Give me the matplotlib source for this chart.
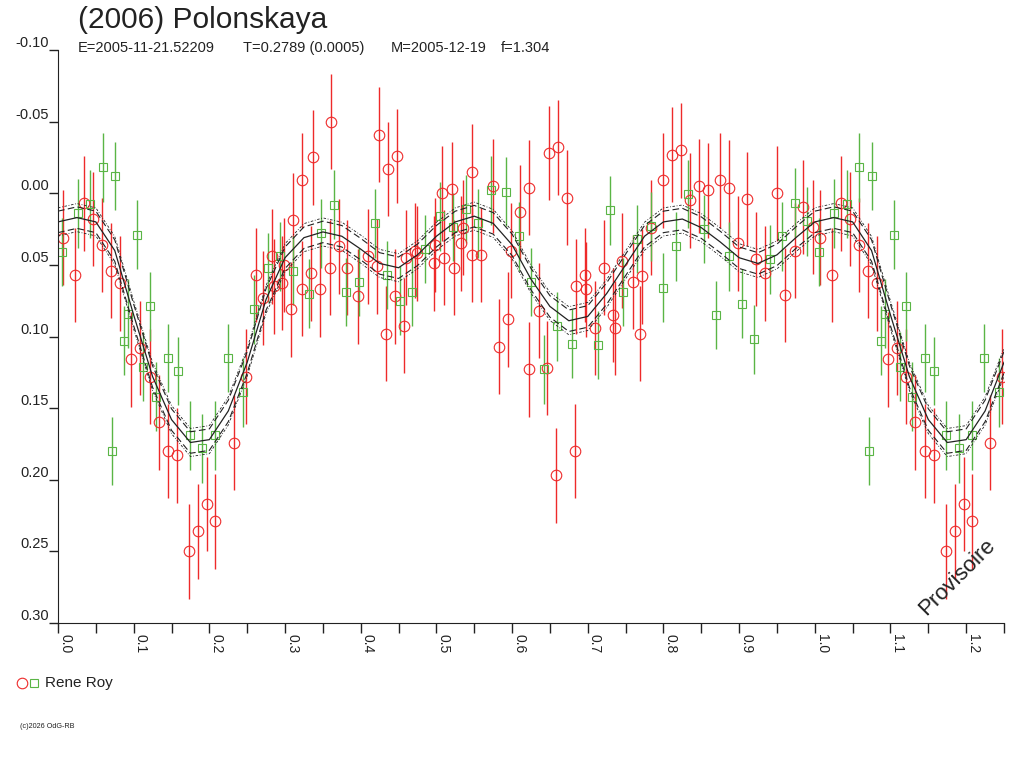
import numpy as np
import matplotlib
matplotlib.use('Agg')
import matplotlib.pyplot as plt
from matplotlib.ticker import FixedLocator, FormatStrFormatter

plt.rcParams['font.family'] = ['Liberation Sans', 'DejaVu Sans']

# phase / relative magnitude (phase 0..1, repeated up to 1.25)
red_phase = [0.007, 0.0225, 0.034, 0.046, 0.058, 0.070, 0.082, 0.097, 0.109, 0.121,
             0.133, 0.145, 0.157, 0.173, 0.185, 0.197, 0.208, 0.232, 0.248, 0.262,
             0.271, 0.283, 0.286, 0.296, 0.299, 0.3075, 0.311, 0.322, 0.3224, 0.334,
             0.337, 0.346, 0.359, 0.361, 0.371, 0.382, 0.397, 0.410, 0.422, 0.424,
             0.4335, 0.4365, 0.445, 0.448, 0.457, 0.4595, 0.472, 0.474, 0.497, 0.498,
             0.508, 0.510, 0.520, 0.523, 0.532, 0.535, 0.547, 0.5476, 0.559, 0.5745,
             0.583, 0.595, 0.5986, 0.6106, 0.622, 0.6224, 0.635, 0.646, 0.649, 0.661,
             0.6585, 0.673, 0.683, 0.685, 0.697, 0.698, 0.709, 0.721, 0.733, 0.736,
             0.745, 0.7595, 0.769, 0.772, 0.7837, 0.799, 0.811, 0.823, 0.835, 0.847,
             0.859, 0.875, 0.886, 0.898, 0.9105, 0.922, 0.934, 0.950, 0.961, 0.9735,
             0.985, 0.998]
red_mag = [0.031, 0.057, 0.007, 0.018, 0.036, 0.054, 0.063, 0.116, 0.108, 0.128,
           0.160, 0.180, 0.183, 0.250, 0.236, 0.217, 0.229, 0.174, 0.128, 0.057,
           0.073, 0.044, 0.065, 0.0625, 0.050, 0.081, 0.019, -0.009, 0.0665, 0.056,
           -0.025, 0.067, 0.052, -0.050, 0.037, 0.052, 0.072, 0.044, 0.051, -0.041,
           0.098, -0.017, 0.072, -0.026, 0.0925, 0.045, 0.040, 0.042, 0.049, 0.036,
           0.000, 0.045, -0.003, 0.052, 0.035, 0.024, -0.015, 0.043, 0.043, -0.005,
           0.107, 0.088, 0.040, 0.013, -0.004, 0.123, 0.082, 0.122, -0.028, -0.032,
           0.197, 0.003, 0.180, 0.065, 0.057, 0.067, 0.094, 0.052, 0.085, 0.094,
           0.047, 0.062, 0.098, 0.058, 0.024, -0.009, -0.027, -0.030, 0.005, -0.005,
           -0.002, -0.009, -0.004, 0.035, 0.004, 0.046, 0.056, 0.000, 0.071, 0.040,
           0.0095, 0.0235]
red_err = 0.033

green_phase = [0.005, 0.026, 0.042, 0.059, 0.075, 0.104, 0.071, 0.0925, 0.087, 0.121,
               0.112, 0.129, 0.146, 0.158, 0.174, 0.190, 0.208, 0.224, 0.244, 0.259,
               0.278, 0.294, 0.311, 0.331, 0.348, 0.365, 0.381, 0.398, 0.4185, 0.435,
               0.4516, 0.468, 0.4846, 0.505, 0.522, 0.539, 0.5555, 0.572, 0.592, 0.609,
               0.6255, 0.642, 0.659, 0.679, 0.713, 0.7295, 0.7466, 0.7648, 0.783, 0.800,
               0.816, 0.833, 0.853, 0.870, 0.887, 0.904, 0.920, 0.9405, 0.956, 0.9735,
               0.990]
green_mag = [0.041, 0.014, 0.0075, -0.018, -0.012, 0.029, 0.180, 0.084, 0.103, 0.079,
             0.121, 0.142, 0.115, 0.124, 0.169, 0.178, 0.169, 0.115, 0.139, 0.081,
             0.052, 0.044, 0.054, 0.070, 0.028, 0.008, 0.069, 0.062, 0.021, 0.057,
             0.075, 0.069, 0.039, 0.016, 0.0235, 0.011, 0.021, -0.002, -0.001, 0.030,
             0.062, 0.123, 0.093, 0.105, 0.106, 0.012, 0.069, 0.032, 0.023, 0.066,
             0.037, 0.0005, 0.025, 0.085, 0.044, 0.077, 0.102, 0.046, 0.030, 0.0065,
             0.0195]
green_err = 0.024

# fitted curve read every 0.025 in phase
fit_phase = np.arange(0, 1.0001, 0.025)
fit_mag = [0.020, 0.017, 0.020, 0.040, 0.085, 0.128, 0.158, 0.174, 0.172, 0.152,
           0.118, 0.074, 0.045, 0.031, 0.027, 0.030, 0.039, 0.049, 0.052, 0.043,
           0.030, 0.020, 0.016, 0.021, 0.036, 0.060, 0.079, 0.089, 0.086, 0.070,
           0.050, 0.030, 0.020, 0.018, 0.024, 0.034, 0.045, 0.049, 0.043, 0.031,
           0.020]
env1 = 0.0075
env2 = 0.0098

red_c = '#ee2a2a'
green_c = '#5ab545'
ink = '#222222'


def wrap(ph, mag):
    ph = np.asarray(ph)
    mag = np.asarray(mag)
    m = ph + 1 <= 1.25
    return np.concatenate([ph, ph[m] + 1]), np.concatenate([mag, mag[m]])


fig = plt.figure(figsize=(10.24, 7.68), dpi=100)
ax = fig.add_axes([58 / 1024, 1 - 623 / 768, 946 / 1024, 573 / 768])

rx, ry = wrap(red_phase, red_mag)
gx, gy = wrap(green_phase, green_mag)

ax.errorbar(rx, ry, yerr=red_err, fmt='none', ecolor=red_c, elinewidth=1, capsize=0)
ax.errorbar(gx, gy, yerr=green_err, fmt='none', ecolor=green_c, elinewidth=1, capsize=0)
ax.plot(rx, ry, 'o', ms=7.6, mfc='none', mec=red_c, mew=0.8)
ax.plot(gx, gy, 's', ms=6.0, mfc='none', mec=green_c, mew=0.8)

fx, fy = wrap(fit_phase[:-1], fit_mag[:-1])
order = np.argsort(fx)
fx, fy = fx[order], fy[order]
ax.plot(fx, fy, color=ink, lw=0.9)
for off in (env1, -env1):
    ax.plot(fx, fy + off, color=ink, lw=0.8, ls=(0, (6, 3)))
for off in (env2, -env2):
    ax.plot(fx, fy + off, color=ink, lw=0.6, ls=(0, (3, 2, 1, 2)))

ax.set_xlim(0, 1.25)
ax.set_ylim(0.30, -0.10)
for s in ('top', 'right'):
    ax.spines[s].set_visible(False)
ax.spines['left'].set_color(ink)
ax.spines['bottom'].set_color(ink)

ax.xaxis.set_major_locator(FixedLocator(np.round(np.arange(0, 1.21, 0.1), 2)))
ax.xaxis.set_minor_locator(FixedLocator(np.round(np.arange(0.05, 1.26, 0.1), 2)))
ax.xaxis.set_major_formatter(FormatStrFormatter('%.1f'))
ax.yaxis.set_major_locator(FixedLocator(np.round(np.arange(-0.10, 0.301, 0.05), 2)))
ax.yaxis.set_major_formatter(FormatStrFormatter('%.2f'))
ax.tick_params(axis='x', which='both', length=7, width=1, color=ink, pad=1,
               labelsize=10, labelcolor=ink)
ax.tick_params(axis='y', length=6.5, width=1, color=ink, pad=0,
               labelsize=10.5, labelcolor=ink)
for lab in ax.get_xticklabels():
    lab.set_rotation(270)
    lab.set_ha('left')
    lab.set_va('top')
for lab in ax.get_yticklabels():
    lab.set_va('bottom')

ax.text(1.188, 0.268, 'Provisoire', rotation=45, ha='center', va='center',
        fontsize=16, color=ink)

fig.text(78 / 1024, 1 - 20 / 768, '(2006) Polonskaya', fontsize=21.5, color=ink,
         va='center', ha='left')
sub_x = [78, 243, 391, 501]
sub_txt = ['E=2005-11-21.52209', 'T=0.2789 (0.0005)', 'M=2005-12-19', 'f=1.304']
for sx, st in zip(sub_x, sub_txt):
    fig.text(sx / 1024, 1 - 48 / 768, st, fontsize=10.5, color=ink, va='center', ha='left')

ly = 1 - 683 / 768
fig.lines.append(plt.Line2D([22 / 1024], [ly], marker='o', ms=7.6, mfc='none',
                            mec=red_c, mew=0.8, transform=fig.transFigure))
fig.lines.append(plt.Line2D([34 / 1024], [ly], marker='s', ms=6.0, mfc='none',
                            mec=green_c, mew=0.8, transform=fig.transFigure))
fig.text(45 / 1024, ly, 'Rene Roy', fontsize=11, color=ink, va='center', ha='left')
fig.text(20 / 1024, 1 - 726 / 768, '(c)2026 OdG-RB', fontsize=5.2, color=ink,
         va='center', ha='left')

fig.savefig('out.png', dpi=100)
